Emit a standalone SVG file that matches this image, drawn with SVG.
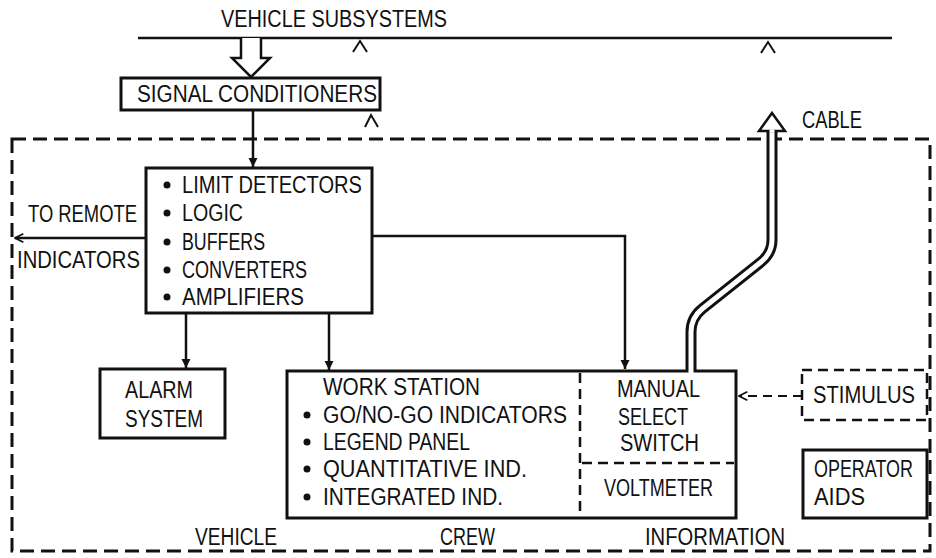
<svg xmlns="http://www.w3.org/2000/svg" width="936" height="558" viewBox="0 0 936 558">
<style>
text{font-family:"Liberation Sans","DejaVu Sans",sans-serif;font-size:23px;fill:#111}
.box{fill:#fff;stroke:#111;stroke-width:3}
.ln{fill:none;stroke:#111;stroke-width:2.5}
.dash{fill:none;stroke:#111;stroke-width:3;stroke-dasharray:14 7}
.dsm{fill:none;stroke:#111;stroke-width:2.5;stroke-dasharray:10 6}
.tick{fill:none;stroke:#111;stroke-width:2}
.bul{fill:#111}
</style>
<defs>
<marker id="ah" viewBox="0 0 10 10" refX="10" refY="5" markerWidth="9" markerHeight="10" orient="auto" markerUnits="userSpaceOnUse"><path d="M0,0 L10,5 L0,10 z" fill="#111"/></marker>
<marker id="oa" viewBox="0 0 12 12" refX="11" refY="6" markerWidth="10" markerHeight="12" orient="auto" markerUnits="userSpaceOnUse"><path d="M1,1 L11,6 L1,11" fill="none" stroke="#111" stroke-width="2"/></marker>
</defs>
<rect id="boundary" class="dash" x="12" y="139" width="918" height="412"/>
<g id="vehicle-subsystems">
<line class="ln" x1="138" y1="38" x2="892" y2="38"/>
<text x="221" y="27" font-size="20" textLength="226" lengthAdjust="spacingAndGlyphs">VEHICLE SUBSYSTEMS</text>
</g>
<g id="ticks">
<path class="tick" d="M353,52 L360,41 L367,52"/>
<path class="tick" d="M761,53 L768,42 L775,53"/>
<path class="tick" d="M365,127 L371,115 L378,127"/>
</g>
<g id="signal-conditioners">
<rect class="box" x="121" y="78" width="259" height="32"/>
<text x="137" y="102" textLength="240" lengthAdjust="spacingAndGlyphs">SIGNAL CONDITIONERS</text>
</g>
<g id="processing">
<rect class="box" x="146" y="168" width="226" height="145"/>
<circle class="bul" cx="167" cy="185" r="3.5"/><text x="182" y="193" textLength="180" lengthAdjust="spacingAndGlyphs">LIMIT DETECTORS</text>
<circle class="bul" cx="167" cy="213" r="3.5"/><text x="182" y="221" textLength="61" lengthAdjust="spacingAndGlyphs">LOGIC</text>
<circle class="bul" cx="167" cy="242" r="3.5"/><text x="182" y="250" textLength="83" lengthAdjust="spacingAndGlyphs">BUFFERS</text>
<circle class="bul" cx="167" cy="270" r="3.5"/><text x="182" y="278" textLength="125" lengthAdjust="spacingAndGlyphs">CONVERTERS</text>
<circle class="bul" cx="167" cy="297" r="3.5"/><text x="182" y="305" textLength="122" lengthAdjust="spacingAndGlyphs">AMPLIFIERS</text>
</g>
<g id="remote-label">
<text x="28" y="222" textLength="109" lengthAdjust="spacingAndGlyphs">TO REMOTE</text>
<text x="17" y="268" textLength="123" lengthAdjust="spacingAndGlyphs">INDICATORS</text>
</g>
<g id="alarm-system">
<rect class="box" x="100" y="369" width="125" height="69"/>
<text x="125" y="398" textLength="68" lengthAdjust="spacingAndGlyphs">ALARM</text>
<text x="125" y="427" textLength="78" lengthAdjust="spacingAndGlyphs">SYSTEM</text>
</g>
<g id="work-station">
<rect class="box" x="287" y="371" width="449" height="147"/>
<line class="dsm" x1="580" y1="373" x2="580" y2="516"/>
<line class="dsm" x1="582" y1="463" x2="734" y2="463"/>
<text x="323" y="395" textLength="157" lengthAdjust="spacingAndGlyphs">WORK STATION</text>
<circle class="bul" cx="307" cy="415" r="3.5"/><text x="323" y="423" textLength="244" lengthAdjust="spacingAndGlyphs">GO/NO-GO INDICATORS</text>
<circle class="bul" cx="307" cy="442" r="3.5"/><text x="323" y="450" textLength="147" lengthAdjust="spacingAndGlyphs">LEGEND PANEL</text>
<circle class="bul" cx="307" cy="469" r="3.5"/><text x="323" y="477" textLength="204" lengthAdjust="spacingAndGlyphs">QUANTITATIVE IND.</text>
<circle class="bul" cx="307" cy="497" r="3.5"/><text x="323" y="505" textLength="180" lengthAdjust="spacingAndGlyphs">INTEGRATED IND.</text>
<text x="617" y="397" textLength="83" lengthAdjust="spacingAndGlyphs">MANUAL</text>
<text x="618" y="425" textLength="70" lengthAdjust="spacingAndGlyphs">SELECT</text>
<text x="620" y="451" textLength="79" lengthAdjust="spacingAndGlyphs">SWITCH</text>
<text x="604" y="496" textLength="109" lengthAdjust="spacingAndGlyphs">VOLTMETER</text>
</g>
<g id="stimulus">
<rect class="dsm" x="802" y="370" width="125" height="50" stroke-width="3"/>
<text x="813" y="403" textLength="102" lengthAdjust="spacingAndGlyphs">STIMULUS</text>
</g>
<g id="operator-aids">
<rect class="box" x="803" y="450" width="124" height="68"/>
<text transform="translate(814,477) scale(0.78,1)">OPERATOR</text>
<text x="814" y="505" textLength="51" lengthAdjust="spacingAndGlyphs">AIDS</text>
</g>
<g id="cable">
<path d="M691,372 L691,332 Q691,318 702,309 L761,262 Q772,253 772,240 L772,130" fill="none" stroke="#111" stroke-width="11"/>
<path d="M691,374 L691,332 Q691,318 702,309 L761,262 Q772,253 772,240 L772,128" fill="none" stroke="#fff" stroke-width="5"/>
<polygon points="772,113 785,131 759,131" fill="#fff" stroke="#111" stroke-width="2.5"/>
<line x1="769.5" y1="131" x2="774.5" y2="131" stroke="#fff" stroke-width="3"/>
<text x="802" y="128" textLength="60" lengthAdjust="spacingAndGlyphs">CABLE</text>
</g>
<g id="region-labels">
<text x="195" y="545" textLength="82" lengthAdjust="spacingAndGlyphs">VEHICLE</text>
<text x="440" y="545" textLength="55" lengthAdjust="spacingAndGlyphs">CREW</text>
<text x="645" y="545" textLength="140" lengthAdjust="spacingAndGlyphs">INFORMATION</text>
</g>
<g id="connectors">
<path d="M241,38 L241,58 L232,58 L251,77 L270,58 L261,58 L261,38" fill="#fff" stroke="#111" stroke-width="2.5"/>
<line class="ln" x1="253" y1="110" x2="253" y2="167" marker-end="url(#ah)"/>
<line class="ln" x1="146" y1="238" x2="15" y2="238" marker-end="url(#oa)"/>
<path class="ln" d="M372,236 L625,236 L625,369" marker-end="url(#ah)"/>
<line class="ln" x1="186" y1="313" x2="186" y2="368" marker-end="url(#ah)"/>
<line class="ln" x1="329" y1="313" x2="329" y2="370" marker-end="url(#ah)"/>
<line x1="802" y1="396" x2="739" y2="396" stroke="#111" stroke-width="2" stroke-dasharray="9 6" marker-end="url(#oa)"/>
</g>
</svg>
